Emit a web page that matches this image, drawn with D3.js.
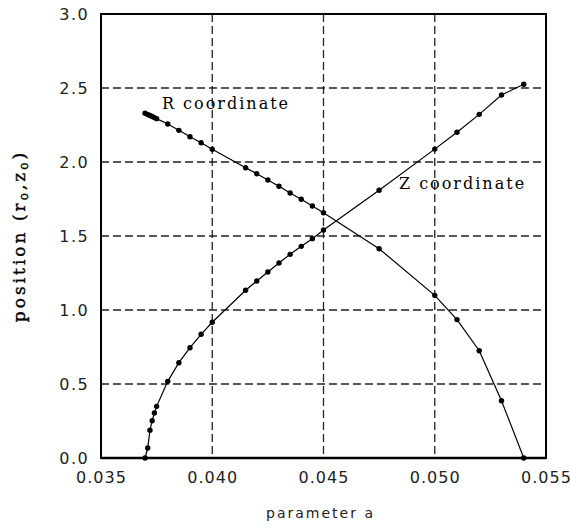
<!DOCTYPE html>
<html>
<head>
<meta charset="utf-8">
<script src="https://cdn.jsdelivr.net/npm/d3@7"></script>
<style>
  body { margin: 0; background: #fff; }
  svg { display: block; }
</style>
</head>
<body>
<svg id="chart" width="571" height="527"></svg>
<script>
// parameter a values and positions
var rA = [0.03698, 0.0371, 0.0372, 0.0373, 0.0374, 0.0375, 0.038, 0.0385, 0.039, 0.0395, 0.040,
          0.0415, 0.042, 0.0425, 0.043, 0.0435, 0.044, 0.0445, 0.045, 0.0475, 0.050, 0.051, 0.052, 0.053, 0.054];
var rVals = [2.329, 2.321, 2.314, 2.307, 2.300, 2.293, 2.257, 2.214, 2.171, 2.130, 2.086,
             1.961, 1.921, 1.878, 1.836, 1.791, 1.748, 1.703, 1.657, 1.414, 1.099, 0.935, 0.725, 0.387, 0.0];

var zA = [0.03698, 0.0371, 0.0372, 0.0373, 0.0374, 0.0375, 0.038, 0.0385, 0.039, 0.0395, 0.040,
          0.0415, 0.042, 0.0425, 0.043, 0.0435, 0.044, 0.0445, 0.045, 0.0475, 0.050, 0.051, 0.052, 0.053, 0.054];
var zVals = [0.0, 0.068, 0.187, 0.252, 0.304, 0.349, 0.518, 0.644, 0.745, 0.836, 0.917,
             1.133, 1.196, 1.257, 1.318, 1.376, 1.430, 1.482, 1.541, 1.809, 2.087, 2.201, 2.322, 2.453, 2.525];

var xTicks = [0.035, 0.040, 0.045, 0.050, 0.055];
var yTicks = [0.0, 0.5, 1.0, 1.5, 2.0, 2.5, 3.0];

var margin = {top: 14, right: 25, bottom: 69, left: 101},
    width = 571 - margin.left - margin.right,
    height = 527 - margin.top - margin.bottom;

var svg = d3.select("#chart")
  .append("g")
    .attr("transform", "translate(" + margin.left + "," + margin.top + ")");

var x = d3.scaleLinear().domain([0.035, 0.055]).range([0, width]);
var y = d3.scaleLinear().domain([0, 3]).range([height, 0]);

// dashed grid
svg.append("g")
  .selectAll("line")
  .data(xTicks.slice(1, -1))
  .enter().append("line")
    .attr("x1", d => x(d)).attr("x2", d => x(d))
    .attr("y1", 0).attr("y2", height)
    .attr("stroke", "#222").attr("stroke-width", 1.3)
    .attr("stroke-dasharray", "8,4");

svg.append("g")
  .selectAll("line")
  .data(yTicks.slice(1, -1))
  .enter().append("line")
    .attr("y1", d => y(d)).attr("y2", d => y(d))
    .attr("x1", 0).attr("x2", width)
    .attr("stroke", "#222").attr("stroke-width", 1.3)
    .attr("stroke-dasharray", "8,4");

// frame
svg.append("rect")
  .attr("x", 0).attr("y", 0)
  .attr("width", width).attr("height", height)
  .attr("fill", "none").attr("stroke", "#000").attr("stroke-width", 2);
svg.append("line")
  .attr("x1", 0).attr("x2", width)
  .attr("y1", height).attr("y2", height)
  .attr("stroke", "#000").attr("stroke-width", 2.6);

// axes (labels only)
var xAxis = svg.append("g")
  .attr("transform", "translate(0," + height + ")")
  .call(d3.axisBottom(x).tickValues(xTicks).tickSize(0).tickPadding(14).tickFormat(d3.format(".3f")));
xAxis.select(".domain").remove();
xAxis.selectAll("text")
  .style("font-family", "DejaVu Sans")
  .style("font-size", "16px")
  .style("letter-spacing", "1px")
  .attr("fill", "#222");

var yAxis = svg.append("g")
  .call(d3.axisLeft(y).tickValues(yTicks).tickSize(0).tickPadding(12).tickFormat(d3.format(".1f")));
yAxis.select(".domain").remove();
yAxis.selectAll("text")
  .style("font-family", "DejaVu Sans")
  .style("font-size", "16px")
  .style("letter-spacing", "1.4px")
  .attr("fill", "#222");

// curves
var line = d3.line().x(d => x(d[0])).y(d => y(d[1]));
var rData = rA.map((a, i) => [a, rVals[i]]);
var zData = zA.map((a, i) => [a, zVals[i]]);

[rData, zData].forEach(function(data) {
  svg.append("path")
    .datum(data)
    .attr("fill", "none")
    .attr("stroke", "#000")
    .attr("stroke-width", 1.2)
    .attr("d", line);
  svg.append("g")
    .selectAll("circle")
    .data(data)
    .enter().append("circle")
      .attr("cx", d => x(d[0]))
      .attr("cy", d => y(d[1]))
      .attr("r", 2.7)
      .attr("fill", "#000");
});

// curve labels
svg.append("text")
  .attr("x", x(0.03774)).attr("y", y(2.36))
  .style("font-family", "DejaVu Serif")
  .style("font-size", "16px")
  .style("letter-spacing", "2px")
  .text("R coordinate");

svg.append("text")
  .attr("x", x(0.04839)).attr("y", y(1.82))
  .style("font-family", "DejaVu Serif")
  .style("font-size", "16px")
  .style("letter-spacing", "2px")
  .text("Z coordinate");

// axis titles
svg.append("text")
  .attr("x", width / 2 - 3)
  .attr("y", height + 60)
  .style("text-anchor", "middle")
  .style("font-family", "DejaVu Sans")
  .style("font-size", "14px")
  .style("letter-spacing", "2px")
  .attr("fill", "#222")
  .text("parameter a");

var yl = svg.append("text")
  .attr("transform", "rotate(-90)")
  .attr("x", -height / 2)
  .attr("y", -76)
  .style("text-anchor", "middle")
  .style("font-family", "DejaVu Serif")
  .style("font-size", "17px")
  .style("stroke", "#000")
  .style("stroke-width", "0.4px")
  .style("letter-spacing", "3px");
yl.append("tspan").text("position (r");
yl.append("tspan").attr("baseline-shift", "-25%").style("font-size", "12px").text("o");
yl.append("tspan").text(",z");
yl.append("tspan").attr("baseline-shift", "-25%").style("font-size", "12px").text("o");
yl.append("tspan").text(")");
</script>
</body>
</html>
